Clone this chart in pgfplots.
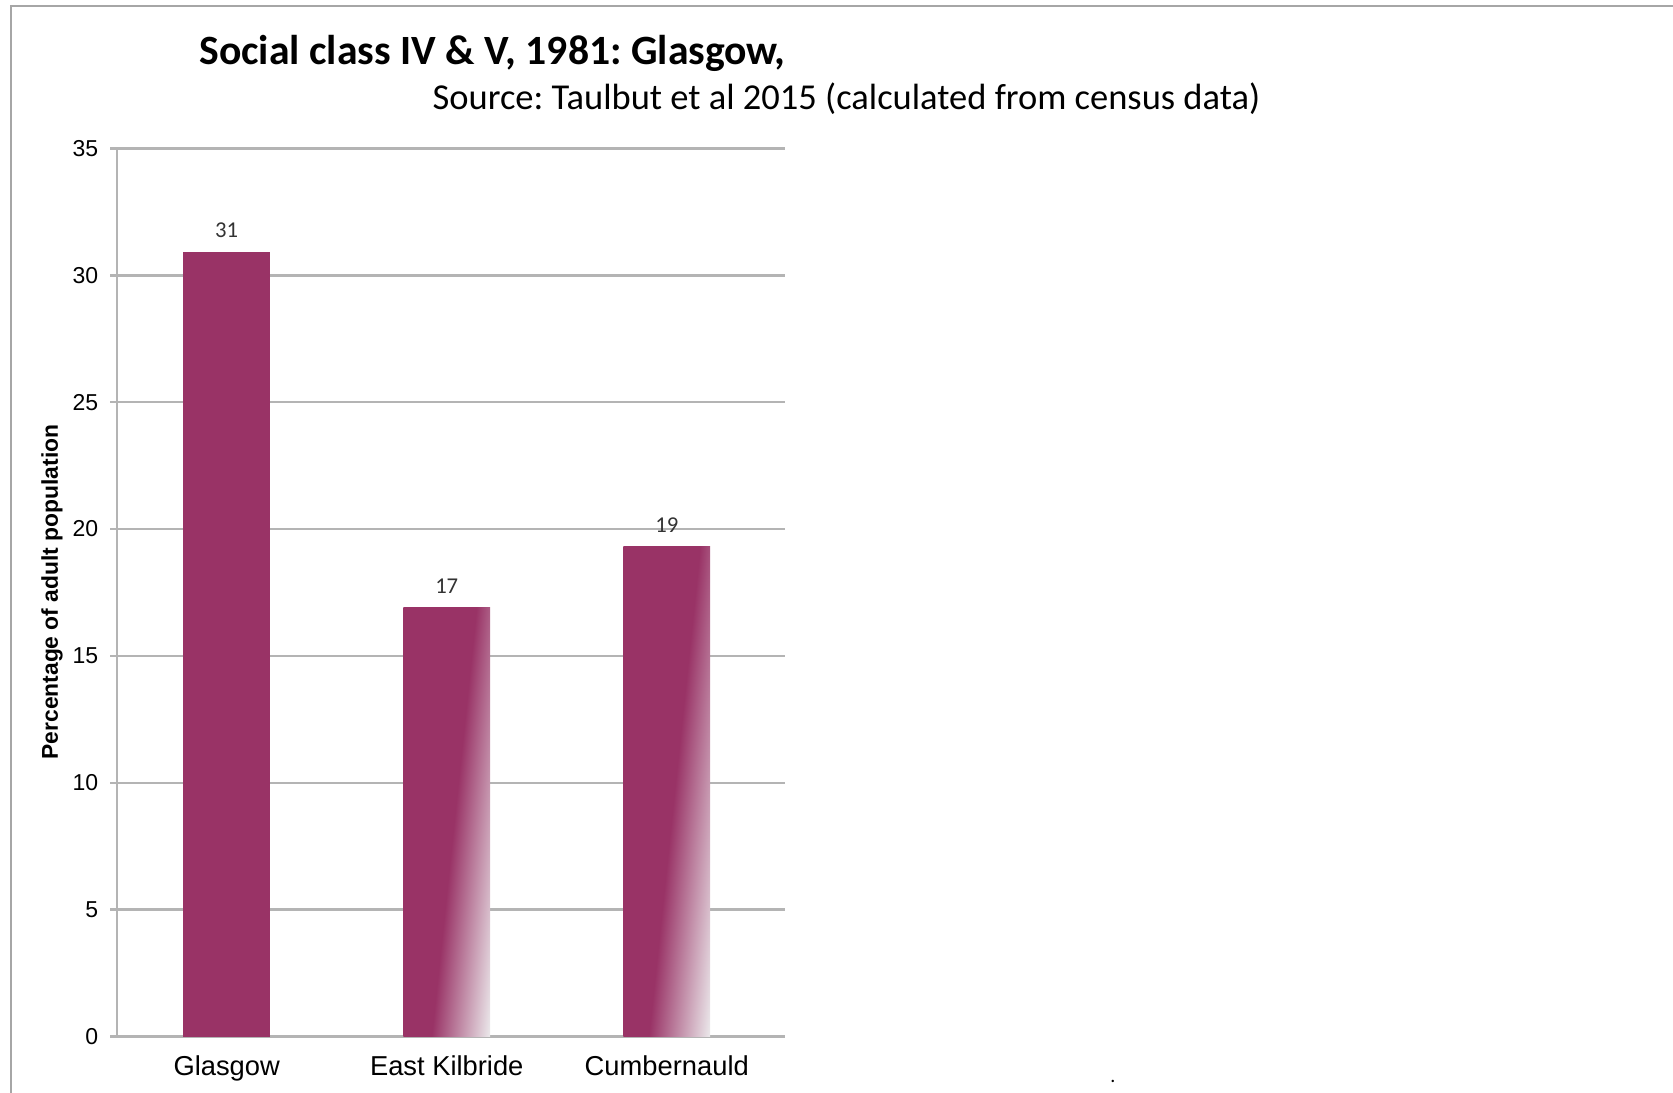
\documentclass[border=0pt]{standalone}
\usepackage{fontspec}
\setmainfont{Carlito}
\newfontfamily\arial{Liberation Sans}
\usepackage{pgfplots}
\pgfplotsset{compat=1.18}

\definecolor{barcol}{HTML}{993366}
\definecolor{fadecol}{HTML}{EAE6E9}
\definecolor{gridcol}{HTML}{B4B4B4}
\definecolor{framecol}{HTML}{A6A6A6}

% solid on the left part of each bar, fading toward the lower right corner
\pgfdeclarehorizontalshading{barfade}{100bp}{color(0bp)=(barcol); color(53bp)=(barcol); color(77bp)=(fadecol); color(100bp)=(fadecol)}

\begin{document}
\frenchspacing
\begin{tikzpicture}
\path[use as bounding box] (0,0) rectangle (501.9pt,327.9pt);
\draw[framecol, line width=0.6pt] (3.4pt,0) -- (3.4pt,326.1pt) -- (501.9pt,326.1pt);

\node[anchor=base west, inner sep=0pt] at (59.6pt,308.6pt)
  {\fontsize{12.5}{14}\selectfont\bfseries Social class IV \& V, 1981: Glasgow,};
\node[anchor=base west, inner sep=0pt] at (129.6pt,294.9pt)
  {\fontsize{10.95}{13}\selectfont Source: Taulbut et al 2015 (calculated from census data)};
\node[rotate=90, inner sep=0pt] at (15.6pt,150.3pt)
  {\arial\bfseries\fontsize{6.85}{8}\selectfont Percentage of adult population};
\node[inner sep=0pt] at (333.9pt,3.6pt) {\fontsize{6}{7}\selectfont .};

\begin{axis}[
  at={(35.1pt,16.89pt)}, anchor=south west,
  scale only axis, width=200.25pt, height=266.52pt,
  xmin=-0.4985, xmax=2.535, ymin=0, ymax=35,
  axis x line*=bottom, axis y line*=left,
  axis line style={gridcol, line width=0.8pt},
  xtick={0,1,2},
  xticklabels={Glasgow, East Kilbride, Cumbernauld},
  xtick style={draw=none},
  ytick={0,5,...,35},
  ymajorgrids,
  grid style={gridcol, line width=0.8pt},
  ytick style={gridcol, line width=0.8pt},
  tick align=outside,
  major tick length=2.1pt,
  /pgf/number format/assume math mode=true,
  yticklabel style={font=\arial\fontsize{6.9}{8}\selectfont, text=black},
  xticklabel style={font=\arial\fontsize{8.2}{10}\selectfont, text=black},
  nodes near coords style={font=\fontsize{6.8}{8}\selectfont, text=black!80, anchor=center, yshift=6.6pt},
  clip=false,
]
% Glasgow
\addplot[ybar, bar shift=0pt, bar width=0.395, draw=none, fill=barcol,
  nodes near coords, point meta=explicit symbolic]
  coordinates {(0,30.9) [31]};
% East Kilbride
\addplot[ybar, bar shift=0pt, bar width=0.395, draw=none, shade, shading=barfade, shading angle=-6,
  nodes near coords, point meta=explicit symbolic]
  coordinates {(1,16.9) [17]};
% Cumbernauld
\addplot[ybar, bar shift=0pt, bar width=0.395, draw=none, shade, shading=barfade, shading angle=-6,
  nodes near coords, point meta=explicit symbolic]
  coordinates {(2,19.3) [19]};
\end{axis}
\end{tikzpicture}
\end{document}
